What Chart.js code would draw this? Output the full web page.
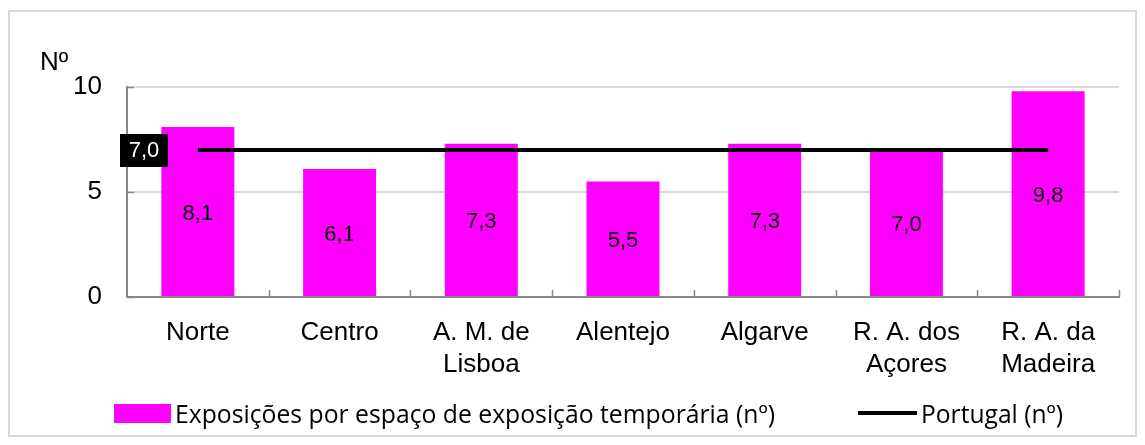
<!DOCTYPE html>
<html><head><meta charset="utf-8">
<script src="https://cdn.jsdelivr.net/npm/chart.js@4/dist/chart.umd.min.js"></script>
<style>html,body{margin:0;padding:0;background:#fff}#wrap{width:1145px;height:445px}</style>
</head><body><div id="wrap"><canvas id="c" width="1145" height="445"></canvas></div>
<script>
const categories = ['Norte','Centro',['A. M. de','Lisboa'],'Alentejo','Algarve',['R. A. dos','Açores'],['R. A. da','Madeira']];
const exposicoes = [8.1, 6.1, 7.3, 5.5, 7.3, 7.0, 9.8];
const portugal = [7.0, 7.0, 7.0, 7.0, 7.0, 7.0, 7.0];
const portugalValue = 7.0;
const yTicks = [0, 5, 10];
const seriesNames = ['Exposições por espaço de exposição temporária (nº)', 'Portugal (nº)'];

const fmt = v => v.toFixed(1).replace('.', ',');
const SANS = "'Liberation Sans', Arial, sans-serif";

const decor = {
  id: 'decor',
  beforeDraw(chart) {
    const ctx = chart.ctx;
    ctx.save();
    ctx.fillStyle = '#fff';
    ctx.fillRect(0, 0, chart.width, chart.height);
    ctx.strokeStyle = '#d9d9d9';
    ctx.lineWidth = 2;
    ctx.strokeRect(9, 11, 1127, 425);
    ctx.restore();
  },
  afterDatasetsDraw(chart) {
    const ctx = chart.ctx;
    const y = chart.scales.y;
    const ca = chart.chartArea;
    ctx.save();
    ctx.strokeStyle = '#888';
    ctx.lineWidth = 1.5;
    const n = categories.length;
    const step = (ca.right - ca.left) / n;
    for (let i = 1; i <= n; i++) {
      const px = Math.round(ca.left + step * i) + 0.5;
      ctx.beginPath(); ctx.moveTo(px, ca.bottom); ctx.lineTo(px, ca.bottom - 7); ctx.stroke();
    }
    yTicks.forEach(t => {
      const py = Math.round(y.getPixelForValue(t)) + 0.5;
      ctx.beginPath(); ctx.moveTo(ca.left, py); ctx.lineTo(ca.left + 7, py); ctx.stroke();
    });
    const meta = chart.getDatasetMeta(0);
    ctx.fillStyle = '#000';
    ctx.font = '22px ' + SANS;
    ctx.textAlign = 'center';
    ctx.textBaseline = 'middle';
    meta.data.forEach((bar, i) => {
      const mid = (bar.y + bar.base) / 2;
      ctx.fillText(fmt(exposicoes[i]), bar.x, mid + 2);
    });
    const ly = y.getPixelForValue(portugalValue);
    ctx.fillStyle = '#000';
    ctx.fillRect(120, ly - 16, 48, 33);
    ctx.fillStyle = '#fff';
    ctx.fillText(fmt(portugalValue), 144, ly + 1);
    ctx.fillStyle = '#000';
    ctx.font = '26px ' + SANS;
    ctx.textAlign = 'left';
    ctx.textBaseline = 'alphabetic';
    ctx.fillText('Nº', 40, 70);
    ctx.fillStyle = '#ff00ff';
    ctx.fillRect(114, 404, 57, 19);
    ctx.fillStyle = '#000';
    const drawFit = (txt, x0, base, w) => {
      ctx.font = "25px 'Open Sans', 'Noto Sans', sans-serif";
      const m = ctx.measureText(txt).width;
      ctx.save();
      ctx.translate(x0, base);
      ctx.scale(w / m, 1);
      ctx.fillText(txt, 0, 0);
      ctx.restore();
    };
    drawFit(seriesNames[0], 175, 423, 600);
    ctx.strokeStyle = '#000';
    ctx.lineWidth = 4;
    ctx.beginPath(); ctx.moveTo(858, 413); ctx.lineTo(917, 413); ctx.stroke();
    drawFit(seriesNames[1], 921, 423, 142);
    ctx.restore();
  }
};

new Chart(document.getElementById('c'), {
  data: {
    labels: categories,
    datasets: [
      { type: 'bar', label: seriesNames[0], data: exposicoes, backgroundColor: '#ff00ff',
        categoryPercentage: 1, barPercentage: 0.515, order: 2 },
      { type: 'line', label: seriesNames[1], data: portugal, borderColor: '#000', borderWidth: 4,
        pointRadius: 0, fill: false, order: 1 }
    ]
  },
  options: {
    responsive: false,
    animation: false,
    devicePixelRatio: 1,
    layout: { padding: { left: 0, right: 26, top: 87, bottom: 0 } },
    plugins: { legend: { display: false }, tooltip: { enabled: false } },
    scales: {
      x: {
        offset: true,
        grid: { display: false, drawTicks: false },
        border: { display: true, color: '#888', width: 2 },
        ticks: { color: '#000', font: { family: SANS, size: 26, lineHeight: 1.23 }, padding: 20, maxRotation: 0, autoSkip: false },
        afterFit(s) { s.height = 445 - 297; }
      },
      y: {
        min: 0, max: 10,
        afterBuildTicks(s) { s.ticks = yTicks.map(v => ({ value: v })); },
        grid: { color: '#d9d9d9', lineWidth: 2, drawTicks: false },
        border: { display: true, color: '#888', width: 2 },
        ticks: { color: '#000', font: { family: SANS, size: 26 }, padding: 25 },
        afterFit(s) { s.width = 127; }
      }
    }
  },
  plugins: [decor]
});
</script>
</body></html>
